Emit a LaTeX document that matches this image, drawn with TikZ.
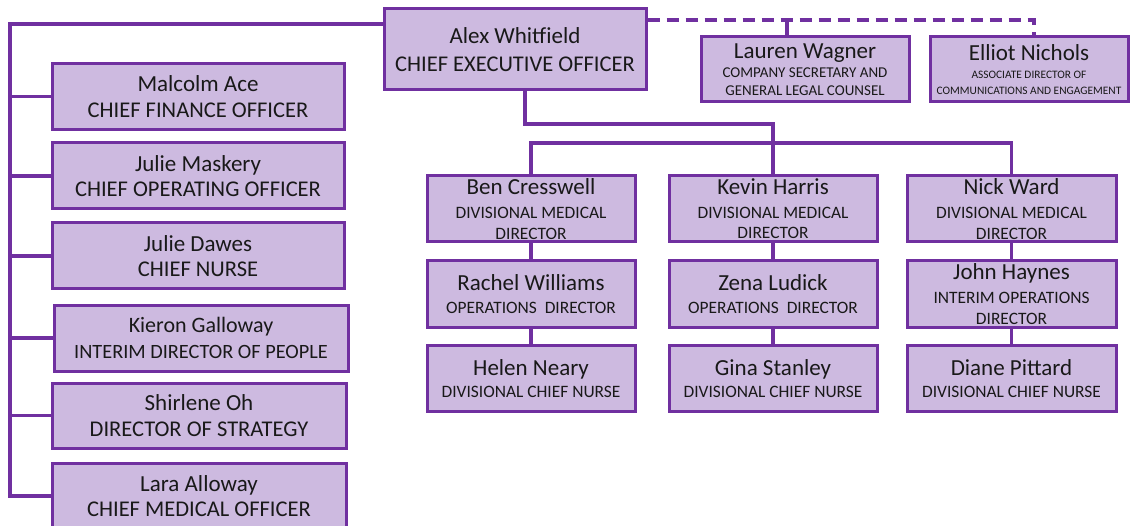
\documentclass[tikz,border=0pt]{standalone}
\usepackage{fontspec}
\setmainfont{Carlito}
\definecolor{boxfill}{RGB}{205,186,224}
\definecolor{boxline}{RGB}{112,48,160}
\definecolor{txt}{RGB}{25,25,25}
\tikzset{
  person/.style={draw=boxline, fill=boxfill, line width=3pt, inner sep=0pt,
    align=center, text=txt, anchor=center},
  lefts/.style={person, font=\fontsize{23}{25.5}\selectfont},
  ceos/.style={person, font=\fontsize{23}{28.4}\selectfont},
  divs/.style={person, font=\fontsize{17.4}{20.6}\selectfont},
  smalls/.style={person, font=\fontsize{15}{17.7}\selectfont},
  tinys/.style={person, font=\fontsize{11.4}{16}\selectfont},
  link/.style={draw=boxline, line width=3.4pt},
  dlink/.style={draw=boxline, line width=3.4pt, dash pattern=on 12pt off 7pt},
}
\newcommand{\nm}{\fontsize{23}{25}\selectfont}
\newcommand{\nmS}{\fontsize{22}{25}\selectfont}
\newcommand{\sbA}{\fontsize{22.5}{25}\selectfont}
\newcommand{\sbAS}{\fontsize{20.3}{25}\selectfont}
\newcommand{\sbB}{\fontsize{17.4}{20}\selectfont}
\newcommand{\sbC}{\fontsize{15}{17}\selectfont}
\newcommand{\sbD}{\fontsize{11.4}{13}\selectfont}
\begin{document}
\begin{tikzpicture}[x=1pt,y=-1pt]
\useasboundingbox (0,0) rectangle (1131,526);
\coordinate (lt) at (10,24);
\coordinate (dr) at (1034,20);
\coordinate (cd) at (525,124);
\coordinate (bus) at (0,143);
% CEO and advisers
\node[ceos, minimum width=262pt, minimum height=81pt] (ceo) at (515,49.5)
  {\nm Alex Whitfield\\\sbA CHIEF EXECUTIVE OFFICER};
\node[smalls, minimum width=208pt, minimum height=65pt] (lw) at (805,69.5)
  {\nm Lauren Wagner\\[1.3pt]\sbC COMPANY SECRETARY AND\\\sbC GENERAL LEGAL COUNSEL};
\node[tinys, minimum width=198pt, minimum height=65pt] (en) at (1029,69.5)
  {\nm Elliot Nichols\\[2pt]\sbD ASSOCIATE DIRECTOR OF\\\sbD COMMUNICATIONS AND ENGAGEMENT};
% Left column
\node[lefts, minimum width=292pt, minimum height=66pt] (ma) at (198,96.5)
  {\nm Malcolm Ace\\\sbA CHIEF FINANCE OFFICER};
\node[lefts, minimum width=292pt, minimum height=66pt] (jm) at (198,176)
  {\nm Julie Maskery\\\sbA CHIEF OPERATING OFFICER};
\node[lefts, minimum width=292pt, minimum height=66pt] (jd) at (198,256)
  {\nm Julie Dawes\\\sbA CHIEF NURSE};
\node[lefts, minimum width=294pt, minimum height=66pt] (kg) at (201,338)
  {\nmS Kieron Galloway\\\sbAS INTERIM DIRECTOR OF PEOPLE};
\node[lefts, minimum width=294pt, minimum height=65pt] (so) at (199,415.5)
  {\nm Shirlene Oh\\\sbA DIRECTOR OF STRATEGY};
\node[lefts, minimum width=294pt, minimum height=66pt] (la) at (199,496)
  {\nm Lara Alloway\\\sbA CHIEF MEDICAL OFFICER};
% Divisions
\node[divs, minimum width=208pt, minimum height=66pt] (bc) at (531,209)
  {\nm Ben Cresswell\\[3pt]\sbB DIVISIONAL MEDICAL\\\sbB DIRECTOR};
\node[divs, minimum width=208pt, minimum height=66pt] (kh) at (773,209)
  {\nm Kevin Harris\\[3pt]\sbB DIVISIONAL MEDICAL\\\sbB DIRECTOR};
\node[divs, minimum width=209pt, minimum height=66pt] (nw) at (1011.5,209)
  {\nm Nick Ward\\[3pt]\sbB DIVISIONAL MEDICAL\\\sbB DIRECTOR};
\node[divs, minimum width=208pt, minimum height=66pt] (rw) at (531,294)
  {\nm Rachel Williams\\[2pt]\sbB OPERATIONS\ \ DIRECTOR};
\node[divs, minimum width=208pt, minimum height=66pt] (zl) at (773,294)
  {\nm Zena Ludick\\[2pt]\sbB OPERATIONS\ \ DIRECTOR};
\node[divs, minimum width=209pt, minimum height=66pt] (jh) at (1011.5,294)
  {\nm John Haynes\\[3pt]\sbB INTERIM OPERATIONS\\\sbB DIRECTOR};
\node[divs, minimum width=208pt, minimum height=66pt] (hn) at (531,378.5)
  {\nm Helen Neary\\[2pt]\sbB DIVISIONAL CHIEF NURSE};
\node[divs, minimum width=208pt, minimum height=66pt] (gs) at (773,378.5)
  {\nm Gina Stanley\\[2pt]\sbB DIVISIONAL CHIEF NURSE};
\node[divs, minimum width=209pt, minimum height=66pt] (dp) at (1011.5,378.5)
  {\nm Diane Pittard\\[2pt]\sbB DIVISIONAL CHIEF NURSE};
% Connectors
\path[link] (ceo.west |- lt) -- (lt) -- (lt |- la.west) -- (la.west);
\path[link] (lt |- ma.west) -- (ma.west);
\path[link] (lt |- jm.west) -- (jm.west);
\path[link] (lt |- jd.west) -- (jd.west);
\path[link] (lt |- kg.west) -- (kg.west);
\path[link] (lt |- so.west) -- (so.west);
\path[dlink] (ceo.east |- dr) -- (dr) -- (dr |- en.north);
\path[link] (lw.north -| 787,0) -- (787,20);
\path[link] (ceo.south -| cd) -- (cd) -- (cd -| kh.north) -- (kh.north);
\path[link] (bc.north) -- (bc.north |- bus) -- (nw.north |- bus) -- (nw.north);
\path[link] (bc.south) -- (rw.north) (rw.south) -- (hn.north);
\path[link] (kh.south) -- (zl.north) (zl.south) -- (gs.north);
\path[link] (nw.south) -- (jh.north) (jh.south) -- (dp.north);
\end{tikzpicture}
\end{document}
